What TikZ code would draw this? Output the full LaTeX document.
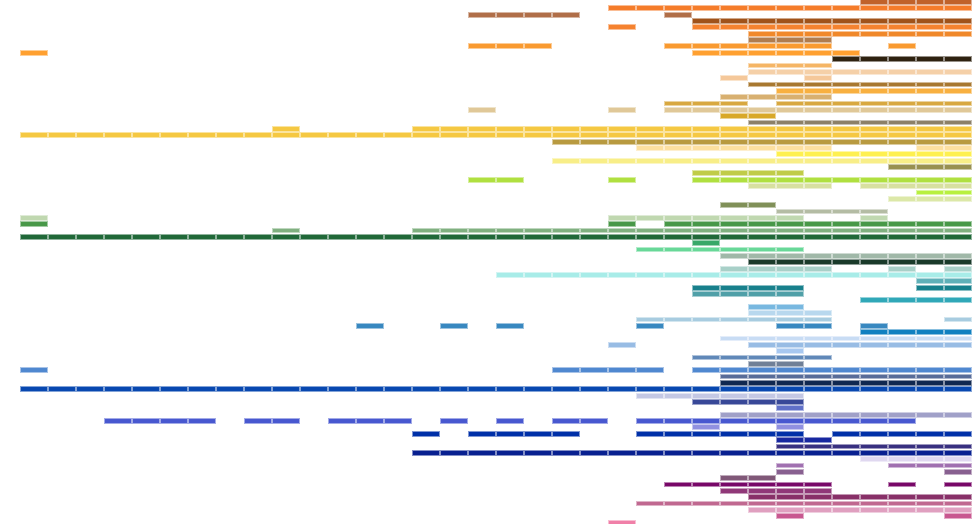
\documentclass[tikz,border=0pt]{standalone}
\newcommand\rowbars[3]{%
  \definecolor{tmpc}{HTML}{#2}%
  \foreach \k in {#3}{%
    \path[barstyle] ({20.5+28*\k},{0.7-6.35*#1}) rectangle ++(27,-4.8);}}
\tikzset{barstyle/.style={fill=tmpc,draw=tmpc!50!white,line width=0.6pt}}
\begin{document}
\begin{tikzpicture}[x=1pt,y=1pt]
\useasboundingbox[fill=white] (0,0) rectangle (977,-523);
\clip (0,0) rectangle (977,-523);
\rowbars{0}{C0622A}{30,...,33}
\rowbars{1}{F57C2A}{21,...,33}
\rowbars{2}{B06E48}{16,...,19,23}
\rowbars{3}{A0521A}{24,...,33}
\rowbars{4}{F5822F}{21,24,25,...,33}
\rowbars{5}{F0882A}{26,...,33}
\rowbars{6}{B07C4E}{26,27,28}
\rowbars{7}{F99A30}{16,17,18,23,24,...,28,31}
\rowbars{8}{FFA030}{0,24,25,...,29}
\rowbars{9}{2E2210}{29,...,33}
\rowbars{10}{F5B565}{26,27,28}
\rowbars{11}{F5D0A8}{26,...,33}
\rowbars{12}{F5C89A}{25,28}
\rowbars{13}{A87830}{26,...,33}
\rowbars{14}{F8B040}{27,...,33}
\rowbars{15}{D8B070}{25,...,28}
\rowbars{16}{D8A840}{23,24,25,27,28,...,33}
\rowbars{17}{E0C898}{16,21,23,24,...,33}
\rowbars{18}{D8A828}{25,26}
\rowbars{19}{8C8068}{26,...,33}
\rowbars{20}{F5C842}{9,14,15,...,33}
\rowbars{21}{F5C842}{0,...,33}
\rowbars{22}{B89A40}{19,...,33}
\rowbars{23}{FCE0A0}{22,...,28,32,33}
\rowbars{24}{FEF050}{27,...,33}
\rowbars{25}{F8EE88}{19,...,33}
\rowbars{26}{989050}{31,32,33}
\rowbars{27}{C0CC48}{24,...,27}
\rowbars{28}{B0E040}{16,17,21,24,25,...,33}
\rowbars{29}{D8E0A0}{26,27,28,30,31,32,33}
\rowbars{30}{B8F040}{32,33}
\rowbars{31}{DCE8A8}{31,32,33}
\rowbars{32}{809058}{25,26}
\rowbars{33}{B4BCA4}{27,...,30}
\rowbars{34}{C0D8B0}{0,21,22,...,27,30}
\rowbars{35}{489848}{0,21,23,24,...,33}
\rowbars{36}{80B080}{9,14,15,...,33}
\rowbars{37}{206838}{0,...,33}
\rowbars{38}{38A868}{24}
\rowbars{39}{68D898}{22,...,27}
\rowbars{40}{A0B8A8}{25,...,33}
\rowbars{41}{1A3A2A}{26,...,33}
\rowbars{42}{A8D0C8}{25,...,28,31,33}
\rowbars{43}{A8ECE8}{17,...,33}
\rowbars{44}{60B0B8}{32,33}
\rowbars{45}{18808C}{24,...,27,32,33}
\rowbars{46}{50A0A8}{24,...,27}
\rowbars{47}{30A8B8}{30,...,33}
\rowbars{48}{78B8E0}{26,27}
\rowbars{49}{B8D8EE}{26,27,28}
\rowbars{50}{A8CCE0}{22,...,28,33}
\rowbars{51}{3888C0}{12,15,17,22,27,28,30}
\rowbars{52}{1080C0}{30,...,33}
\rowbars{53}{C8DCF4}{25,...,33}
\rowbars{54}{98BCE4}{21,26,27,...,33}
\rowbars{55}{A8C8F0}{27}
\rowbars{56}{6088B8}{24,...,28}
\rowbars{57}{708098}{26,27}
\rowbars{58}{5088D0}{0,19,20,21,22,24,25,...,33}
\rowbars{59}{586C98}{25,...,33}
\rowbars{60}{102850}{25,...,33}
\rowbars{61}{0848B0}{0,...,33}
\rowbars{62}{C4C8E4}{22,...,27}
\rowbars{63}{384898}{24,...,27}
\rowbars{64}{6070C8}{27}
\rowbars{65}{A0A0C8}{25,...,33}
\rowbars{66}{4858D0}{3,...,6,8,9,11,12,13,15,17,19,20,22,23,...,31}
\rowbars{67}{9090E0}{24,27}
\rowbars{68}{0030A8}{14,16,17,...,19,22,23,...,27,29,30,...,33}
\rowbars{69}{1828A0}{27,28}
\rowbars{70}{383080}{27,...,33}
\rowbars{71}{082090}{14,...,33}
\rowbars{72}{E0D8F0}{30,...,33}
\rowbars{73}{A070B0}{27,31,32,33}
\rowbars{74}{886090}{27,33}
\rowbars{75}{805878}{25,26}
\rowbars{76}{780868}{23,...,28,31,33}
\rowbars{77}{903878}{25,...,28}
\rowbars{78}{883068}{26,...,33}
\rowbars{79}{C06890}{22,...,33}
\rowbars{80}{E0A0C0}{26,...,33}
\rowbars{81}{C85890}{27,33}
\rowbars{82}{F080A8}{21}
\end{tikzpicture}
\end{document}
